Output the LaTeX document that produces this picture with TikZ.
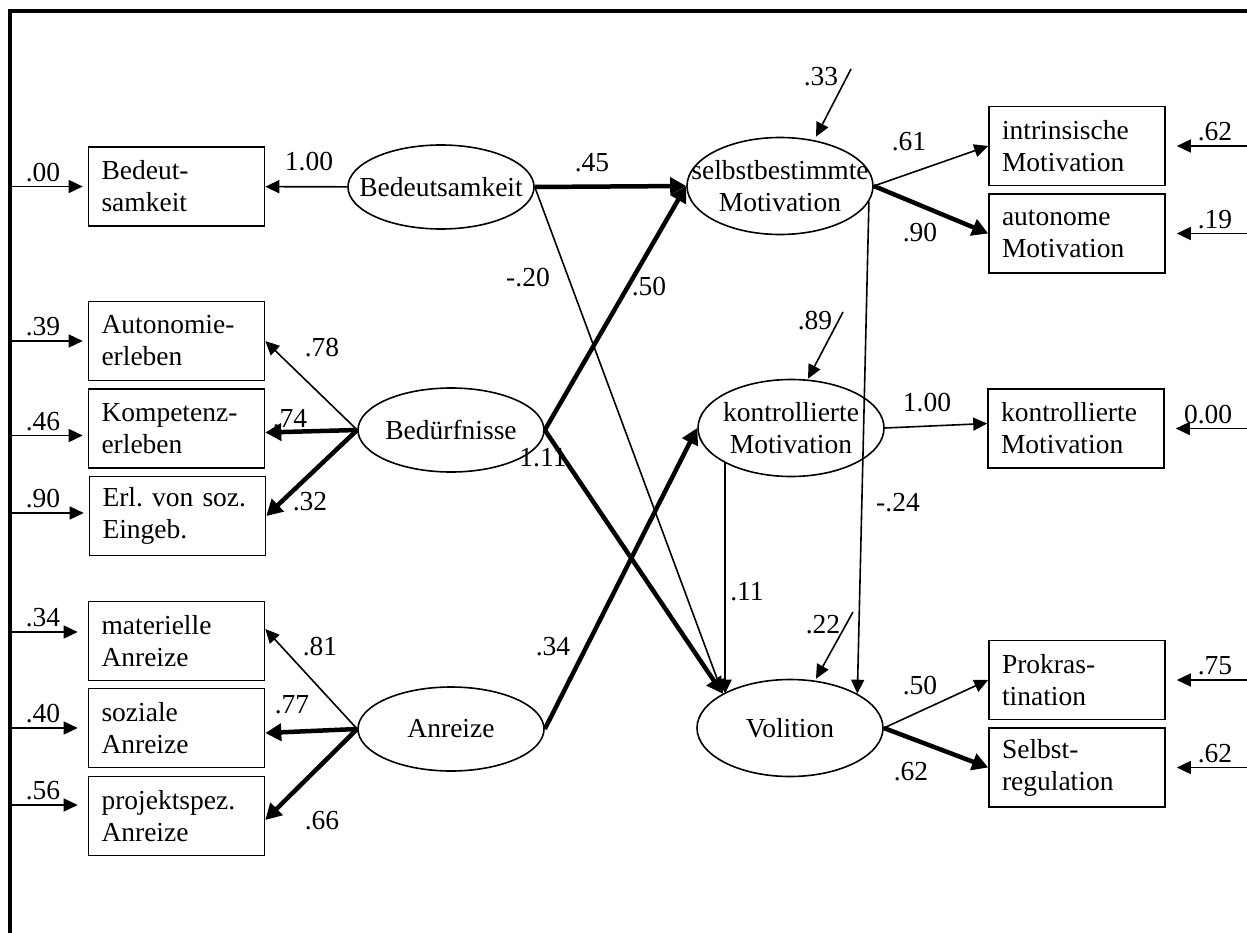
\documentclass[tikz,border=0pt]{standalone}
\usepackage{fontspec}
\setmainfont{Liberation Serif}
\usetikzlibrary{arrows.meta, shapes.geometric, positioning}
\newcommand{\lvtext}[1]{\makebox[0pt]{#1}}

\tikzset{
  latent/.style={ellipse, draw, line width=1.6pt, minimum width=186pt,
                 minimum height=97pt, inner sep=0pt, align=center},
  manifest/.style={rectangle, draw, line width=1.6pt, minimum width=176pt,
                   minimum height=79pt, text width=150pt, inner xsep=13pt, align=left},
  duenn/.style={line width=1.6pt, -{Triangle[length=14pt, width=13pt]}},
  dick/.style={line width=4.5pt, -{Triangle[length=16pt, width=17pt]}},
  gewicht/.style={inner sep=0pt},
}

\begin{document}
\begin{tikzpicture}[x=1pt, y=-1pt, font=\fontsize{27.5}{32}\selectfont\frenchspacing]
  \useasboundingbox (0,0) rectangle (1247,933);
  \draw[line width=3.5pt] (10,933) -- (10,11) -- (1247,11);
  \coordinate (rand) at (10,11);
  \coordinate (rechts) at (1247,11);

  % manifeste Variablen links
  \node[manifest] (bBed)  at (176.5,186.5) {Bedeut-\\samkeit};
  \node[manifest] (bAut)  at (176.5,341)   {Autonomie-\\erleben};
  \node[manifest] (bKomp) at (176.5,428.5) {Kompetenz-\\erleben};
  \node[manifest] (bErl)  at (177.5,516)   {Erl. von soz.\\Eingeb.};
  \node[manifest] (bMat)  at (176.5,641)   {materielle\\Anreize};
  \node[manifest] (bSoz)  at (176.5,728)   {soziale\\Anreize};
  \node[manifest] (bProj) at (176.5,816)   {projektspez.\\Anreize};

  % manifeste Variablen rechts
  \node[manifest] (bIntr)  at (1077,146)   {intrinsische\\Motivation};
  \node[manifest] (bAuto)  at (1077,233.5) {autonome\\Motivation};
  \node[manifest] (bKontr) at (1076,428.5) {kontrollierte\\Motivation};
  \node[manifest] (bProk)  at (1077,680)   {Prokras-\\tination};
  \node[manifest] (bSreg)  at (1077,767.5) {Selbst-\\regulation};

  % latente Variablen
  \node[latent, minimum height=84pt] (eBed)  at (441,187) {\lvtext{Bedeutsamkeit}};
  \node[latent, minimum height=84pt] (eBedf) at (451,430) {\lvtext{Bedürfnisse}};
  \node[latent, minimum height=84pt] (eAnr)  at (451,729) {\lvtext{Anreize}};
  \node[latent] (eSelbst) at (780,186) {\lvtext{selbstbestimmte}\\\lvtext{Motivation}};
  \node[latent] (eKontr)  at (791,428) {\lvtext{kontrollierte}\\\lvtext{Motivation}};
  \node[latent] (eVol)    at (790,728) {\lvtext{Volition}};

  % Messfehler
  \foreach \n/\w/\s/\g in {bBed/.00/0/5, bAut/.39/0/5, bKomp/.46/-7/5, bErl/.90/3/5,
                           bMat/.34/9/10, bSoz/.40/0/10, bProj/.56/11/10}{
    \draw[duenn, shorten >=\g pt] ([yshift=\s pt]\n.west -| rand) -- ([yshift=\s pt]\n.west)
      node[gewicht, pos=0, anchor=south west, xshift=15pt, yshift=4pt] {\w};
  }
  \foreach \n/\w in {bIntr/.62, bAuto/.19, bKontr/0.00, bProk/.75, bSreg/.62}{
    \draw[duenn, shorten >=11pt] (\n.east -| rechts) -- (\n.east)
      node[gewicht, pos=0, anchor=south east, xshift=-14pt, yshift=4pt] {\w};
  }

  % Ladungen
  \draw[duenn] (eBed) -- (bBed);
  \draw[duenn] (eBedf.west) -- (bAut.east);
  \draw[dick]  (eBedf.west) -- ([yshift=-4pt]bKomp.east);
  \draw[dick]  (eBedf.west) -- (bErl.east);
  \draw[duenn] (eAnr.west) -- ([yshift=12pt]bMat.east);
  \draw[dick]  (eAnr.west) -- ([yshift=-5pt]bSoz.east);
  \draw[dick]  (eAnr.west) -- ([yshift=-4pt]bProj.east);
  \draw[duenn] (eSelbst.east) -- (bIntr.west);
  \draw[dick]  (eSelbst.east) -- (bAuto.west);
  \draw[duenn] (eKontr.east) -- ([yshift=5pt]bKontr.west);
  \draw[duenn] (eVol.east) -- (bProk.west);
  \draw[dick]  (eVol.east) -- (bSreg.west);

  % Pfade
  \draw[dick]  (eBed.east) -- (eSelbst.west);
  \draw[duenn] (eBed.east) -- (eVol.153);
  \draw[dick]  (eBedf.east) -- (eSelbst.west);
  \draw[dick]  (eBedf.east) -- (eVol.153);
  \draw[dick]  (eAnr.east) -- (eKontr.west);
  \draw[duenn] (eKontr.208) -- (eKontr.208 |- eVol.153);
  \draw[duenn] (eSelbst.-10) -- (eVol.27);

  % Residuen
  \coordinate (sSelbst) at (851,69);
  \coordinate (sKontr)  at (843,312);
  \coordinate (sVol)    at (853,612);
  \draw[duenn] (sSelbst) -- ([xshift=36pt]eSelbst.north);
  \draw[duenn] (sKontr) -- ([xshift=17pt]eKontr.north);
  \draw[duenn] (sVol) -- ([xshift=26pt]eVol.north);

  % Koeffizienten
  \foreach \x/\y/\t [count=\i] in {309/162/1.00, 322/348/.78, 290/419/.74, 310/502/.32,
      320/647/.81, 292/705/.77, 322/821/.66, 592/163/.45, 528/278/-.20, 649/287/.50,
      543/458/1.11, 553/647/.34, 747/592/.11, 898/503/-.24, 909/142/.61, 920/233/.90,
      821/77/.33, 815/321/.89, 823/625/.22, 927/403/1.00, 920/686/.50, 911/772/.62}{
    \node[gewicht] (w\i) at (\x,\y) {\t};
  }
\end{tikzpicture}
\end{document}
